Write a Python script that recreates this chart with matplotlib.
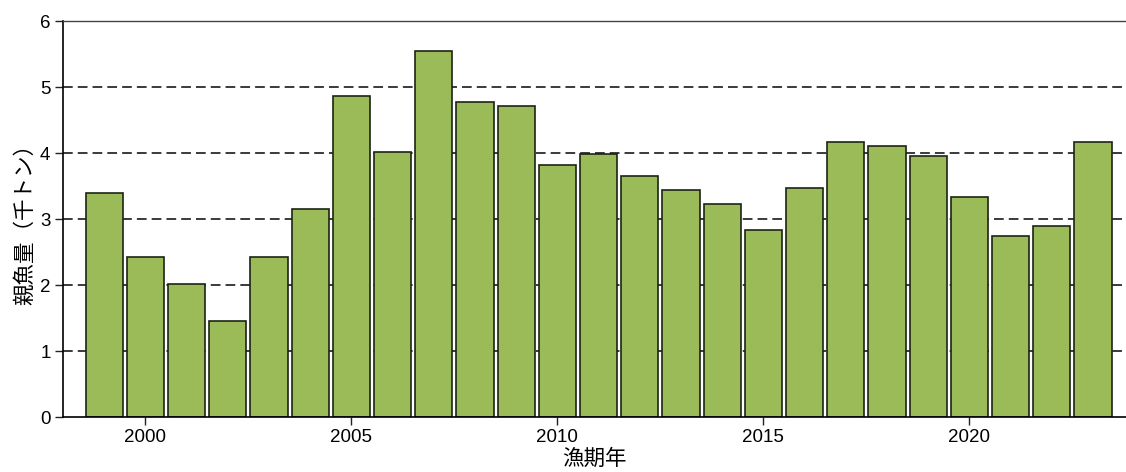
import numpy as np
import matplotlib
matplotlib.use('Agg')
import matplotlib.pyplot as plt

plt.rcParams['font.family'] = ['Liberation Sans', 'Noto Sans CJK JP', 'DejaVu Sans']

# data
years = list(range(1999, 2024))
biomass = [3.40, 2.43, 2.01, 1.45, 2.42, 3.15, 4.87, 4.02, 5.55, 4.77,
           4.71, 3.82, 3.99, 3.65, 3.44, 3.23, 2.84, 3.47, 4.17, 4.11,
           3.96, 3.34, 2.74, 2.90, 4.17]
xticks = [2000, 2005, 2010, 2015, 2020]
yticks = [0, 1, 2, 3, 4, 5, 6]

fig = plt.figure(figsize=(11.26, 4.72), dpi=100)
ax = fig.add_axes([63/1126, 1 - 417/472, (1126 - 63)/1126, (417 - 21)/472])

# dashed grid behind bars
for y in [1, 2, 3, 4, 5]:
    ax.axhline(y, color='#3a3a3a', lw=1.4, dashes=(5, 2.6), zorder=0)

ax.bar(years, biomass, width=0.9, color='#9bbb59', edgecolor='#1c2414',
       linewidth=1.2, zorder=2)

ax.set_xlim(1998.0, 2023.8)
ax.set_ylim(0, 6)
ax.set_xticks(xticks)
ax.set_yticks(yticks)
ax.tick_params(axis='both', direction='out', length=6, width=1.0,
               labelsize=13.5, color='#222222', pad=3)

ax.spines['right'].set_visible(False)
ax.spines['top'].set_color('#444444')
ax.spines['top'].set_linewidth(1.0)
ax.spines['left'].set_linewidth(1.2)
ax.spines['bottom'].set_linewidth(1.2)

ax.set_ylabel('親魚量（千トン）', fontsize=15.5, labelpad=3,
              family=['Noto Sans CJK JP', 'DejaVu Sans'])
ax.set_xlabel('漁期年', fontsize=15.5, labelpad=1,
              family=['Noto Sans CJK JP', 'DejaVu Sans'])

fig.savefig('out.png', dpi=100)
